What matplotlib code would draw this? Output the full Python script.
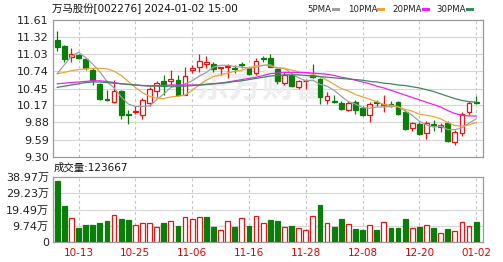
import matplotlib
matplotlib.use("Agg")
import matplotlib.pyplot as plt

# ---------------- data ----------------
dates = ["10-10", "10-11", "10-12", "10-13",
         "10-16", "10-17", "10-18", "10-19", "10-20",
         "10-23", "10-24", "10-25", "10-26", "10-27",
         "10-30", "10-31", "11-01", "11-02", "11-03",
         "11-06", "11-07", "11-08", "11-09", "11-10",
         "11-13", "11-14", "11-15", "11-16", "11-17",
         "11-20", "11-21", "11-22", "11-23", "11-24",
         "11-27", "11-28", "11-29", "11-30", "12-01",
         "12-04", "12-05", "12-06", "12-07", "12-08",
         "12-11", "12-12", "12-13", "12-14", "12-15",
         "12-18", "12-19", "12-20", "12-21", "12-22",
         "12-25", "12-26", "12-27", "12-28", "12-29",
         "01-02"]
tick_labels = ["10-13", "10-25", "11-06", "11-16", "11-28", "12-08", "12-20", "01-02"]

opens = [11.27, 11.17, 10.98, 11.01, 10.94, 10.76, 10.52, 10.28, 10.22, 10.41,
         10.03, 10.05, 10.00, 10.20, 10.41, 10.58, 10.57, 10.59, 10.35, 10.77,
         10.82, 10.86, 10.86, 10.79, 10.81, 10.80, 10.86, 10.79, 10.71, 10.96,
         10.96, 10.78, 10.55, 10.68, 10.48, 10.57, 10.68, 10.61, 10.26, 10.24,
         10.20, 10.09, 10.22, 10.12, 10.01, 10.22, 10.17, 10.19, 10.22, 10.05,
         9.79, 9.85, 9.70, 9.86, 9.81, 9.87, 9.55, 9.70, 10.05, 10.22]
highs = [11.42, 11.19, 11.13, 11.03, 10.97, 10.79, 10.54, 10.43, 10.59, 10.43,
         10.09, 10.15, 10.29, 10.48, 10.57, 10.67, 10.76, 10.67, 10.82, 10.84,
         11.03, 10.99, 10.89, 10.82, 10.86, 10.84, 10.90, 10.81, 10.96, 11.00,
         11.03, 10.82, 10.72, 10.71, 10.59, 10.61, 10.87, 10.63, 10.40, 10.34,
         10.24, 10.24, 10.25, 10.15, 10.23, 10.26, 10.35, 10.24, 10.24, 10.09,
         9.89, 9.88, 9.91, 9.92, 9.87, 9.91, 9.75, 10.05, 10.24, 10.33]
lows = [11.08, 10.90, 10.89, 10.94, 10.76, 10.51, 10.26, 10.24, 10.20, 9.94,
        9.86, 10.02, 9.94, 10.15, 10.31, 10.35, 10.51, 10.33, 10.34, 10.71,
        10.73, 10.79, 10.73, 10.68, 10.63, 10.71, 10.79, 10.68, 10.68, 10.90,
        10.81, 10.53, 10.51, 10.48, 10.44, 10.44, 10.63, 10.19, 10.19, 10.21,
        10.09, 10.07, 10.02, 9.99, 9.89, 10.15, 10.05, 10.14, 10.01, 9.75,
        9.73, 9.67, 9.61, 9.74, 9.72, 9.55, 9.50, 9.66, 10.00, 10.19]
closes = [11.14, 10.94, 11.03, 10.96, 10.79, 10.59, 10.27, 10.26, 10.41, 10.01,
          10.00, 10.07, 10.26, 10.45, 10.54, 10.49, 10.61, 10.34, 10.66, 10.79,
          10.91, 10.89, 10.78, 10.81, 10.83, 10.78, 10.85, 10.69, 10.92, 10.95,
          10.82, 10.57, 10.68, 10.49, 10.57, 10.58, 10.65, 10.30, 10.33, 10.22,
          10.11, 10.20, 10.09, 10.01, 10.19, 10.20, 10.19, 10.16, 10.03, 9.77,
          9.87, 9.68, 9.87, 9.83, 9.83, 9.57, 9.72, 10.02, 10.21, 10.20]

ma5 = [10.70, 10.85, 10.99, 11.06, 10.97, 10.86, 10.73, 10.57, 10.46, 10.31,
       10.19, 10.15, 10.15, 10.16, 10.26, 10.36, 10.47, 10.49, 10.53, 10.58,
       10.66, 10.72, 10.81, 10.84, 10.84, 10.82, 10.81, 10.79, 10.81, 10.84,
       10.85, 10.79, 10.79, 10.70, 10.63, 10.58, 10.59, 10.52, 10.49, 10.42,
       10.32, 10.23, 10.19, 10.13, 10.12, 10.14, 10.14, 10.15, 10.15, 10.07,
       10.00, 9.90, 9.84, 9.80, 9.82, 9.76, 9.76, 9.79, 9.87, 9.94]
ma10 = [10.70, 10.72, 10.75, 10.77, 10.78, 10.79, 10.79, 10.78, 10.74, 10.67,
        10.57, 10.47, 10.38, 10.32, 10.29, 10.28, 10.31, 10.32, 10.34, 10.42,
        10.51, 10.59, 10.65, 10.68, 10.71, 10.74, 10.76, 10.80, 10.83, 10.84,
        10.83, 10.80, 10.79, 10.76, 10.73, 10.71, 10.69, 10.65, 10.59, 10.52,
        10.45, 10.41, 10.35, 10.31, 10.27, 10.23, 10.18, 10.17, 10.14, 10.10,
        10.07, 10.02, 10.00, 9.98, 9.94, 9.88, 9.83, 9.82, 9.84, 9.88]
ma20 = [10.53, 10.54, 10.55, 10.56, 10.57, 10.58, 10.58, 10.57, 10.55, 10.53,
        10.52, 10.51, 10.50, 10.50, 10.50, 10.50, 10.51, 10.51, 10.51, 10.51,
        10.51, 10.52, 10.53, 10.54, 10.56, 10.58, 10.60, 10.62, 10.64, 10.67,
        10.70, 10.71, 10.72, 10.72, 10.72, 10.72, 10.71, 10.70, 10.69, 10.67,
        10.64, 10.62, 10.59, 10.56, 10.53, 10.49, 10.46, 10.42, 10.38, 10.34,
        10.30, 10.26, 10.22, 10.18, 10.14, 10.08, 10.03, 10.00, 9.99, 9.99]
ma30 = [10.47, 10.49, 10.51, 10.53, 10.55, 10.56, 10.56, 10.55, 10.54, 10.53,
        10.52, 10.51, 10.50, 10.49, 10.49, 10.49, 10.49, 10.49, 10.49, 10.50,
        10.51, 10.52, 10.53, 10.54, 10.55, 10.57, 10.58, 10.60, 10.62, 10.64,
        10.66, 10.67, 10.68, 10.68, 10.68, 10.67, 10.66, 10.65, 10.64, 10.63,
        10.62, 10.61, 10.60, 10.59, 10.57, 10.56, 10.54, 10.53, 10.51, 10.50,
        10.48, 10.46, 10.43, 10.40, 10.36, 10.32, 10.28, 10.25, 10.23, 10.22]

# volume in units of 万 (10,000)
volumes = [36.8, 21.8, 14.4, 8.8, 10.4, 10.4, 11.4, 12.8, 16.0, 13.8,
           13.2, 10.4, 11.4, 11.4, 9.2, 11.4, 12.8, 9.8, 15.0, 14.0,
           15.0, 15.0, 9.2, 7.4, 12.8, 9.2, 14.4, 9.8, 15.6, 11.4,
           13.2, 12.8, 9.2, 9.8, 8.6, 7.4, 15.6, 22.4, 11.4, 9.2,
           14.0, 10.8, 8.0, 7.4, 10.4, 7.4, 12.0, 8.8, 8.8, 14.0,
           8.8, 9.2, 10.4, 8.8, 5.4, 8.0, 6.8, 12.0, 9.8, 12.3667]
vol_dir = "GGRGGGGGRGGRRRRGRGRRRGGRRGRGRRGGRGRRRGRGGRGGRGRGGGRGRGRGRRRG"

price_ticks = [9.30, 9.59, 9.88, 10.17, 10.45, 10.74, 11.03, 11.32, 11.61]
price_tick_labels = ["9.30", "9.59", "9.88", "10.17", "10.45", "10.74", "11.03", "11.32", "11.61"]
vol_ticks = [0, 9.74, 19.49, 29.23, 38.97]
vol_tick_labels = ["0", "9.74万", "19.49万", "29.23万", "38.97万"]

title = "万马股份[002276] 2024-01-02 15:00"
vol_title = "成交量:123667"
legend_names = ["5PMA", "10PMA", "20PMA", "30PMA"]

# ---------------- style ----------------
UP = "#ee1111"
DOWN = "#0a7d0a"
MA_COLORS = ["#a0a0a0", "#eba63a", "#ee22ee", "#3a8a5e"]
FONT = ["DejaVu Sans", "Noto Sans CJK SC"]
plt.rcParams["font.family"] = FONT

W, H = 503, 262
fig = plt.figure(figsize=(W / 100, H / 100), dpi=100)
fig.patch.set_facecolor("white")

ax = fig.add_axes([53 / W, 1 - 157 / H, 430 / W, 137.5 / H])
axv = fig.add_axes([53 / W, 1 - 242.3 / H, 430 / W, 65.3 / H])

n = len(closes)
xs = list(range(n))
tick_pos = [dates.index(t) for t in tick_labels]

for a in (ax, axv):
    a.set_xlim(-0.6, n - 0.04)
    for s in a.spines.values():
        s.set_color("#9a9a9a")
        s.set_linewidth(0.9)
    a.set_xticks(tick_pos)
    a.tick_params(length=0, labelsize=8, colors="#222222", pad=3)
    for p in tick_pos:
        a.axvline(p, color="#c4c4c4", lw=0.8, ls=(0, (2.5, 2.5)), zorder=0.5)

# price panel
ax.set_ylim(price_ticks[0], price_ticks[-1])
ax.set_yticks(price_ticks)
ax.set_yticklabels(price_tick_labels)
for t in price_ticks[1:-1]:
    ax.axhline(t, color="#d6d6d6", lw=0.8, zorder=0.5)
ax.set_xticklabels([])

ax.text(0.486, 0.5, "东方财富", transform=ax.transAxes, ha="center", va="center",
        fontsize=24, fontweight="bold", color="#eeeeee", family=["Noto Sans CJK SC"],
        zorder=0.6)

bw = 0.68
for i in xs:
    o, h, l, c = opens[i], highs[i], lows[i], closes[i]
    up = c >= o
    col = UP if up else DOWN
    ax.vlines(i, l, h, color=col, lw=0.9, zorder=2)
    bottom = min(o, c)
    height = max(abs(c - o), 0.006)
    ax.bar(i, height, bottom=bottom, width=bw,
           facecolor="white" if up else col, edgecolor=col, lw=0.9, zorder=3)

for vals, colr in zip([ma5, ma10, ma20, ma30], MA_COLORS):
    ax.plot(xs, vals, color=colr, lw=0.9, zorder=4)

# volume panel
axv.set_ylim(vol_ticks[0], vol_ticks[-1])
axv.set_yticks(vol_ticks)
axv.set_yticklabels(vol_tick_labels)
for t in vol_ticks[1:-1]:
    axv.axhline(t, color="#d6d6d6", lw=0.8, zorder=0.5)
axv.set_xticklabels(tick_labels)
axv.tick_params(axis="x", labelsize=7.5, colors="#e00000", pad=4)

for i in xs:
    up = vol_dir[i] == "R"
    col = UP if up else DOWN
    axv.bar(i, volumes[i], width=bw, facecolor="white" if up else col,
            edgecolor=col, lw=0.9, zorder=3)

# header texts
def px(x, y):
    return x / W, 1 - y / H

fig.text(*px(52, 9), title, ha="left", va="center", fontsize=7.5, color="#111111")
fig.text(*px(54, 168), vol_title, ha="left", va="center", fontsize=7.5, color="#111111")

leg_x = [307, 348, 392, 436]
dash_x = [333, 378, 423, 467]
for name, lx, dx, colr in zip(legend_names, leg_x, dash_x, MA_COLORS):
    fig.text(*px(lx, 9), name, ha="left", va="center", fontsize=6.2, color="#222222")
    fig.add_artist(plt.Line2D([dx / W, (dx + 5) / W], [1 - 9 / H, 1 - 9 / H],
                              color=colr, lw=2.2, transform=fig.transFigure))

fig.savefig("out.png", dpi=100, facecolor="white")
